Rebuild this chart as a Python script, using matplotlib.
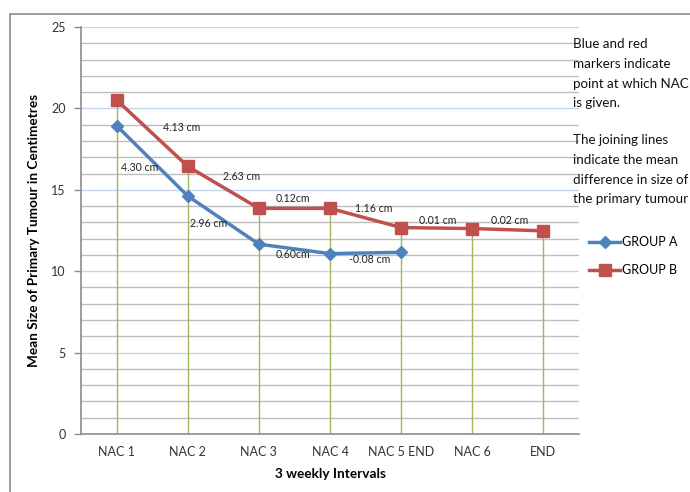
import matplotlib.pyplot as plt
from matplotlib.patches import Rectangle
from matplotlib.lines import Line2D

plt.rcParams['font.family'] = ['Lato', 'DejaVu Sans']

# categories and mean tumour sizes (cm)
intervals = ["NAC 1", "NAC 2", "NAC 3", "NAC 4", "NAC 5 END", "NAC 6", "END"]
group_a = [18.94, 14.62, 11.66, 11.08, 11.16]
group_b = [20.52, 16.44, 13.86, 13.86, 12.68, 12.62, 12.48]

# mean differences between successive points
diff_a = ["4.30 cm", "2.96 cm", "0.60cm", "-0.08 cm"]
diff_b = ["4.13 cm", "2.63 cm", "0.12cm", "1.16 cm", "0.01 cm", "0.02 cm"]
diff_a_pos = [(0.32, 16.35), (1.29, 12.9), (2.48, 11.0), (3.56, 10.7)]
diff_b_pos = [(0.92, 18.85), (1.76, 15.8), (2.48, 14.45), (3.61, 13.85),
              (4.52, 13.1), (5.52, 13.1)]

note_1 = "Blue and red\nmarkers indicate\npoint at which NAC\nis given."
note_2 = "The joining lines\nindicate the mean\ndifference in size of\nthe primary tumour"

BLUE = "#4F81BD"
RED = "#C0504D"
GREEN = "#9BBB59"

fig = plt.figure(figsize=(6.9, 4.92), dpi=100)
ax = fig.add_axes([81/690, 1 - 434/492, (579 - 81)/690, (434 - 27)/492])

# outer chart border
fig.patches.append(Rectangle((10/690, -0.1), 1.2, 1 - 14/492 + 0.1,
                             transform=fig.transFigure, fill=False,
                             edgecolor="#8C8C8C", linewidth=1.2))

ax.set_xlim(-0.5, len(intervals) - 0.5)
ax.set_ylim(0, 25)

# gridlines: every 1 grey, every 5 light blue
for v in range(1, 26):
    if v % 5 == 0:
        ax.axhline(v, color="#C5D6EC", linewidth=1.0, zorder=0)
    else:
        ax.axhline(v, color="#BDBDBD", linewidth=1.0, zorder=0)

# drop lines from highest point to axis
for i in range(len(intervals)):
    top = max([s[i] for s in (group_a, group_b) if i < len(s)])
    ax.plot([i, i], [0, top], color=GREEN, linewidth=1.0, zorder=1)

xa = list(range(len(group_a)))
xb = list(range(len(group_b)))
ax.plot(xa, group_a, color=BLUE, linewidth=2.5, marker="D", markersize=6,
        zorder=3)
ax.plot(xb, group_b, color=RED, linewidth=2.5, marker="s", markersize=8,
        zorder=3)

for t, (x, y) in zip(diff_a, diff_a_pos):
    ax.text(x, y, t, fontsize=7.6, ha="center", va="center", color="#222222",
            zorder=4)
for t, (x, y) in zip(diff_b, diff_b_pos):
    ax.text(x, y, t, fontsize=7.6, ha="center", va="center", color="#222222",
            zorder=4)

ax.set_xticks(range(len(intervals)))
ax.set_xticklabels(intervals)
ax.set_yticks(range(0, 26, 5))
ax.tick_params(axis="x", length=0, pad=9, labelsize=9, colors="#333333")
ax.tick_params(axis="y", length=5, width=1, color="#8C8C8C", pad=6,
               labelsize=9, labelcolor="#333333")
for s in ("top", "right"):
    ax.spines[s].set_visible(False)
for s in ("left", "bottom"):
    ax.spines[s].set_color("#8C8C8C")
    ax.spines[s].set_linewidth(1.2)

ax.set_xlabel("3 weekly Intervals", fontsize=9.8, fontweight="bold",
              labelpad=7)
ax.set_ylabel("Mean Size of Primary Tumour in Centimetres", fontsize=9.8,
              fontweight="bold", labelpad=8)

# side notes
fig.text(573/690, 1 - 38/492, note_1, fontsize=9.6, va="top", ha="left",
         linespacing=1.78, color="#111111")
fig.text(573/690, 1 - 134/492, note_2, fontsize=9.6, va="top", ha="left",
         linespacing=1.78, color="#111111")

handles = [Line2D([], [], color=BLUE, linewidth=2.5, marker="D", markersize=6),
           Line2D([], [], color=RED, linewidth=2.5, marker="s", markersize=8)]
fig.legend(handles, ["GROUP A", "GROUP B"], loc="upper left",
           bbox_to_anchor=(589/690, 1 - 236/492), frameon=False, fontsize=9,
           handlelength=2.5, handletextpad=0.1, labelspacing=1.3,
           borderaxespad=0, borderpad=0)

fig.savefig("out.png", dpi=100)
